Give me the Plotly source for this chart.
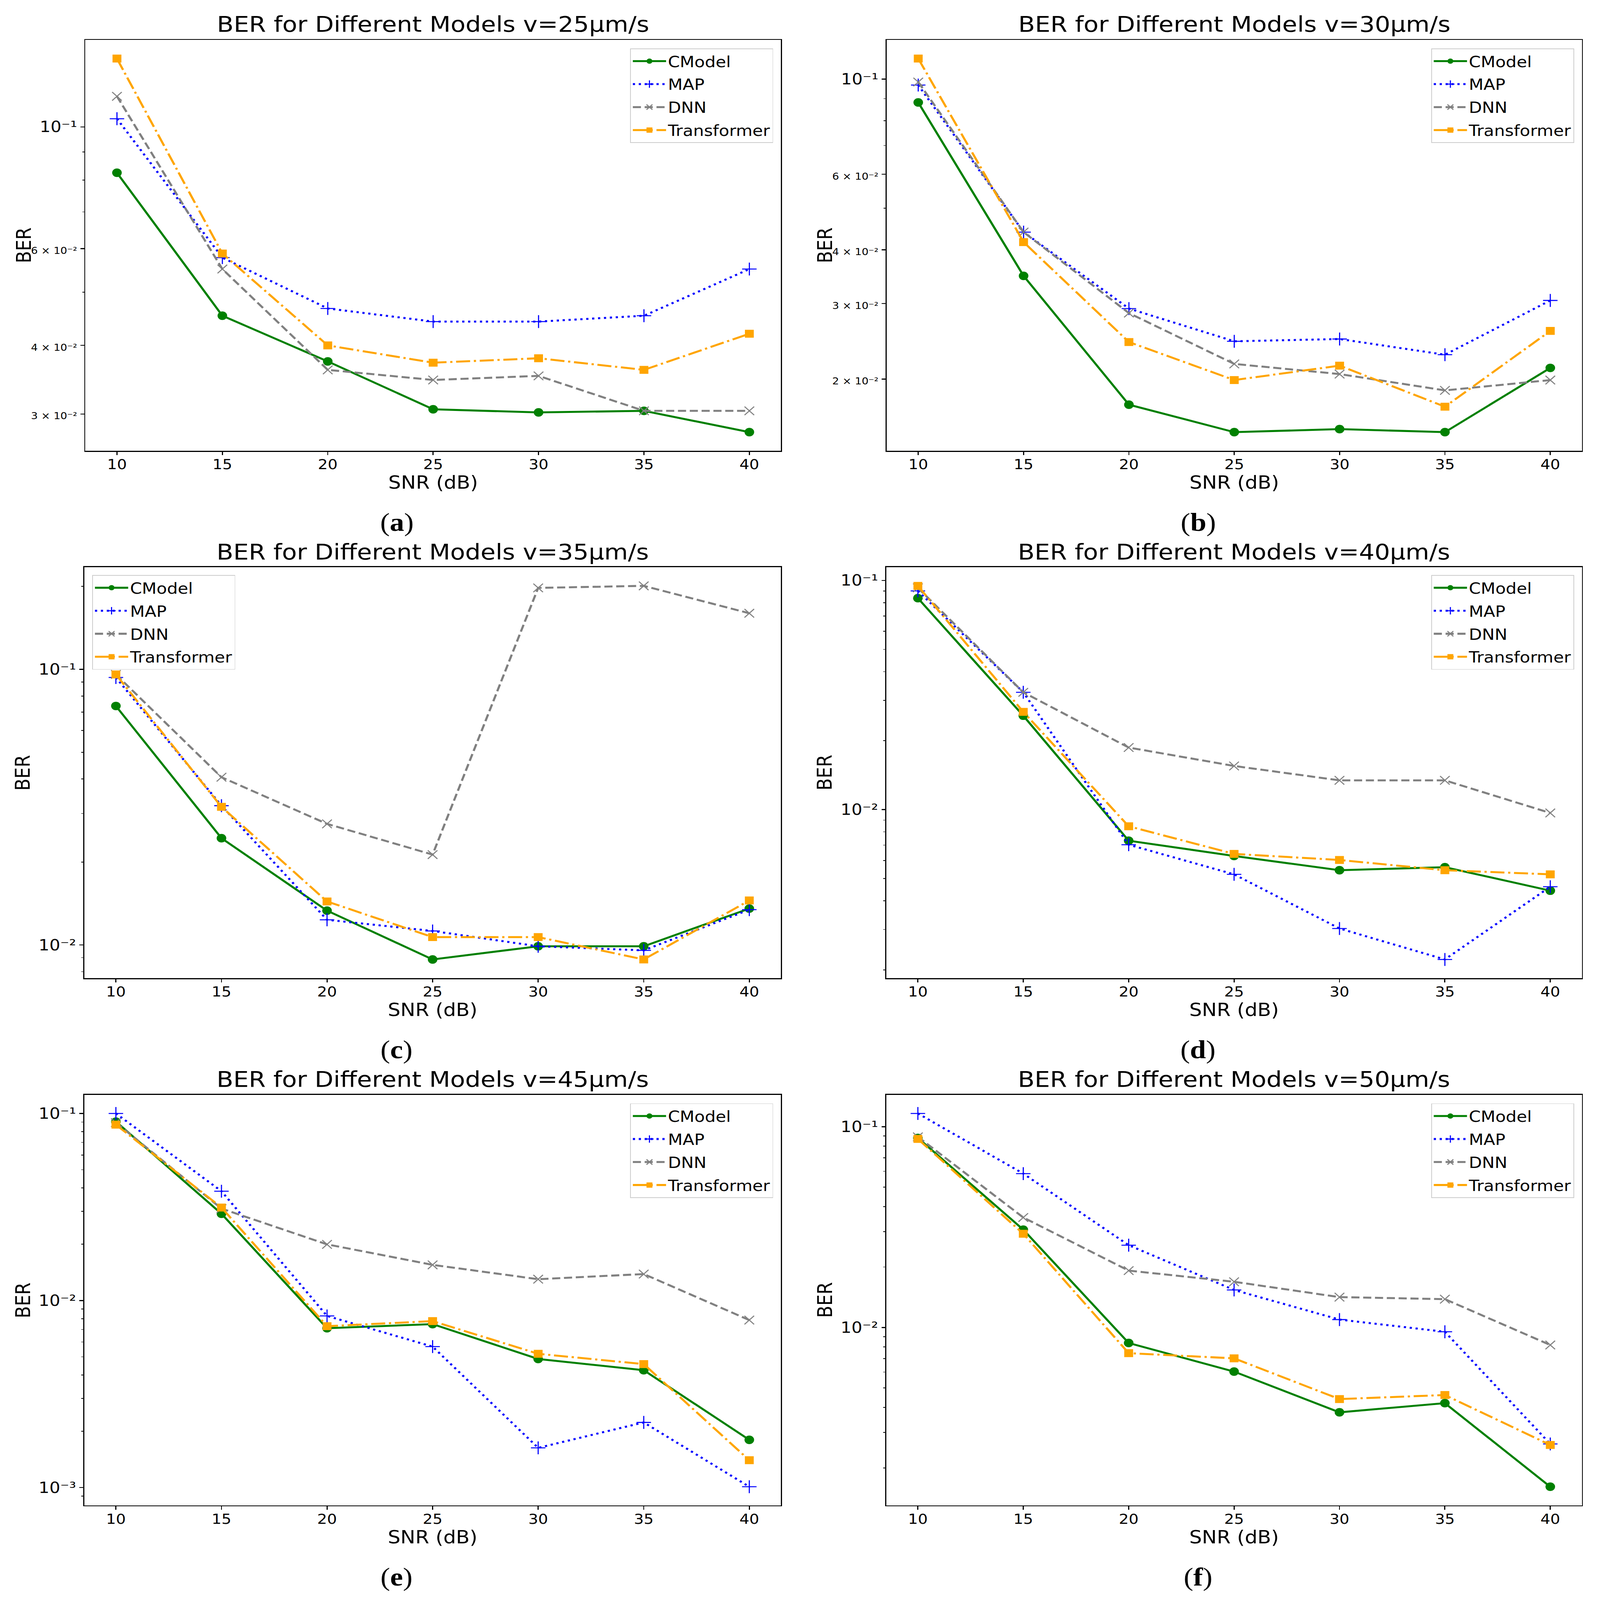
import math
import plotly.graph_objects as go

# ---------------- data ----------------
snr = [10, 15, 20, 25, 30, 35, 40]
model_names = ["CModel", "MAP", "DNN", "Transformer"]
speeds = ["25", "30", "35", "40", "45", "50"]
panel_letters = ["a", "b", "c", "d", "e", "f"]

# (a) v = 25 um/s
a_cmodel = [0.0825, 0.0453, 0.0374, 0.0306, 0.0302, 0.0304, 0.0278]
a_map = [0.1035, 0.0578, 0.0467, 0.0442, 0.0442, 0.0453, 0.0551]
a_dnn = [0.1137, 0.0551, 0.0361, 0.0346, 0.0352, 0.0304, 0.0304]
a_trans = [0.1332, 0.0588, 0.0400, 0.0372, 0.0379, 0.0361, 0.0420]

# (b) v = 30 um/s
b_cmodel = [0.0882, 0.0348, 0.01744, 0.01505, 0.0153, 0.01505, 0.02124]
b_map = [0.0968, 0.0440, 0.0292, 0.0245, 0.0248, 0.0228, 0.0305]
b_dnn = [0.0984, 0.0440, 0.0285, 0.0217, 0.02055, 0.01883, 0.0199]
b_trans = [0.1116, 0.0417, 0.0244, 0.0199, 0.0215, 0.01725, 0.0259]

# (c) v = 35 um/s
c_cmodel = [0.0736, 0.0244, 0.01332, 0.00886, 0.00989, 0.00989, 0.01355]
c_map = [0.0934, 0.0320, 0.01234, 0.01124, 0.00989, 0.00956, 0.01343]
c_dnn = [0.0958, 0.0406, 0.0275, 0.02127, 0.1974, 0.2008, 0.1597]
c_trans = [0.0958, 0.0317, 0.01438, 0.01068, 0.01068, 0.00886, 0.0145]

# (d) v = 40 um/s
d_cmodel = [0.0837, 0.0257, 0.00732, 0.00628, 0.00544, 0.00561, 0.00443]
d_map = [0.0900, 0.0325, 0.00703, 0.00522, 0.00303, 0.00222, 0.00461]
d_dnn = [0.0928, 0.0325, 0.01866, 0.01551, 0.01342, 0.01342, 0.00967]
d_trans = [0.0947, 0.0267, 0.00846, 0.00641, 0.00603, 0.00544, 0.00522]

# (e) v = 45 um/s
e_cmodel = [0.0904, 0.0291, 0.00711, 0.00748, 0.00487, 0.00424, 0.00180]
e_map = [0.1000, 0.0384, 0.00827, 0.00567, 0.00163, 0.00223, 0.00101]
e_dnn = [0.0893, 0.0310, 0.01996, 0.01551, 0.01300, 0.01385, 0.00786]
e_trans = [0.0871, 0.0314, 0.00729, 0.00776, 0.00519, 0.00457, 0.00140]

# (f) v = 50 um/s
f_cmodel = [0.0879, 0.0307, 0.00837, 0.00603, 0.00378, 0.00420, 0.00161]
f_map = [0.1164, 0.0584, 0.0257, 0.01538, 0.01095, 0.00952, 0.00263]
f_dnn = [0.0890, 0.0353, 0.0192, 0.01689, 0.01417, 0.01384, 0.00818]
f_trans = [0.0869, 0.0293, 0.00745, 0.00702, 0.00440, 0.00461, 0.00260]

panel_series = [
    [a_cmodel, a_map, a_dnn, a_trans],
    [b_cmodel, b_map, b_dnn, b_trans],
    [c_cmodel, c_map, c_dnn, c_trans],
    [d_cmodel, d_map, d_dnn, d_trans],
    [e_cmodel, e_map, e_dnn, e_trans],
    [f_cmodel, f_map, f_dnn, f_trans],
]

# minor tick values that carry a "k x 10^n" label (panels a and b)
labeled_minor = [
    [0.06, 0.04, 0.03],
    [0.06, 0.04, 0.03, 0.02],
    [], [], [], [],
]

# ---------------- layout / style ----------------
W, H = 4331, 4855
FONT = "DejaVu Sans"
SUP = {"-": "\u207b", "0": "\u2070", "1": "\u00b9", "2": "\u00b2", "3": "\u00b3",
       "4": "\u2074", "5": "\u2075", "6": "\u2076", "7": "\u2077", "8": "\u2078", "9": "\u2079"}

# plot-area boxes in pixels: (left, right, top, bottom)
boxes = [
    (231, 2114, 121, 1368),
    (2400, 4282, 121, 1368),
    (228, 2114, 1721, 2968),
    (2399, 4282, 1721, 2968),
    (228, 2114, 3322, 4568),
    (2399, 4282, 3322, 4568),
]
# legend anchor (x px, y px, xanchor)
legend_pos = [
    (2093, 147, "right"),
    (4261, 147, "right"),
    (250, 1745, "left"),
    (4261, 1745, "right"),
    (2093, 3348, "right"),
    (4261, 3348, "right"),
]

styles = [
    dict(color="#008000", dash="solid", symbol="circle", msize=26, mline=0),
    dict(color="#0000ff", dash="6px,10px", symbol="cross-thin", msize=28, mline=3),
    dict(color="#808080", dash="22px,10px", symbol="x-thin", msize=26, mline=3),
    dict(color="#ffa500", dash="38px,10px,6px,10px", symbol="square", msize=24, mline=0),
]

LW = 6


def px2x(p):
    return p / W


def px2y(p):
    return 1 - p / H


def sup_exp(n):
    return "10" + "".join(SUP[c] for c in str(n))


fig = go.Figure()
annotations = []
layout_upd = {}

for i, series in enumerate(panel_series):
    idx = "" if i == 0 else str(i + 1)
    xa = "x" + idx
    ya = "y" + idx
    leg = "legend" + idx
    for name, vals, st in zip(model_names, series, styles):
        fig.add_trace(go.Scatter(
            x=snr, y=vals, name=name, mode="lines+markers",
            xaxis=xa, yaxis=ya, legend=leg, legendgroup=name + idx,
            line=dict(color=st["color"], width=LW, dash=st["dash"]),
            marker=dict(symbol=st["symbol"], size=st["msize"], color=st["color"],
                        line=dict(width=st["mline"], color=st["color"])),
        ))

    # log range with 5% padding (matplotlib style)
    allv = [v for s in series for v in s]
    lo, hi = math.log10(min(allv)), math.log10(max(allv))
    pad = 0.05 * (hi - lo)
    lo, hi = lo - pad, hi + pad

    majors, minors = [], []
    for n in range(math.floor(lo) - 1, math.ceil(hi) + 1):
        if lo <= n <= hi:
            majors.append(n)
        for k in range(2, 10):
            v = k * 10 ** n
            if lo <= math.log10(v) <= hi:
                minors.append(round(v, 12))
    tickvals, ticktext = [], []
    for n in majors:
        tickvals.append(10 ** n)
        ticktext.append(sup_exp(n))
    lab = labeled_minor[i]
    for v in lab:
        n = math.floor(math.log10(v) + 1e-9)
        k = round(v / 10 ** n)
        tickvals.append(v)
        ticktext.append("<span style='font-size:29px'>%d \u00d7 %s</span>" % (k, sup_exp(n)))
    unl = [v for v in minors if all(abs(v - t) > 1e-12 for t in lab)]

    L, R, T, B = boxes[i]
    axis_common = dict(showline=True, linewidth=3, linecolor="black", mirror=True,
                       showgrid=False, zeroline=False, ticks="outside", ticklen=10,
                       tickwidth=3, tickcolor="black",
                       tickfont=dict(family=FONT, size=42, color="black"))
    xkey = "xaxis" + idx
    ykey = "yaxis" + idx
    layout_upd[xkey] = dict(
        axis_common, domain=[px2x(L), px2x(R)], anchor=ya,
        range=[8.5, 41.5], tickmode="array", tickvals=snr,
        ticklabelstandoff=-8,
        title=dict(text="SNR (dB)", font=dict(family=FONT, size=54, color="black"), standoff=12),
    )
    layout_upd[ykey] = dict(
        axis_common, domain=[px2y(B), px2y(T)], anchor=xa, type="log",
        range=[lo, hi], tickmode="array", tickvals=tickvals, ticktext=ticktext,
        tickfont=dict(family=FONT, size=46, color="black"),
        minor=dict(tickmode="array", tickvals=unl, ticks="outside", ticklen=5,
                   tickwidth=2, tickcolor="black", showgrid=False),
    )
    lx, ly, lanchor = legend_pos[i]
    layout_upd[leg] = dict(
        x=px2x(lx), y=px2y(ly), xanchor=lanchor, yanchor="top",
        bgcolor="rgba(255,255,255,0.8)", bordercolor="#cccccc", borderwidth=2,
        font=dict(family=FONT, size=46, color="black"),
        tracegroupgap=7, itemwidth=90, traceorder="grouped",
    )
    # y-axis title
    annotations.append(dict(
        text="BER", textangle=-90,
        x=px2x(L - 166), y=px2y((T + B) / 2), xref="paper", yref="paper",
        xanchor="center", yanchor="middle", showarrow=False,
        font=dict(family=FONT, size=54, color="black"),
    ))
    # subplot title
    annotations.append(dict(
        text="BER for Different Models v=%s\u03bcm/s" % speeds[i],
        x=px2x((L + R) / 2), y=px2y(T - 47), xref="paper", yref="paper",
        xanchor="center", yanchor="middle", showarrow=False,
        font=dict(family=FONT, size=66, color="black"),
    ))
    # panel letter
    annotations.append(dict(
        text="(<b>%s</b>)" % panel_letters[i],
        x=px2x((L + R) / 2 - 98), y=px2y(B + 216), xref="paper", yref="paper",
        xanchor="center", yanchor="middle", showarrow=False,
        font=dict(family="Liberation Serif", size=78, color="black"),
    ))

fig.update_layout(
    width=W, height=H, autosize=False,
    margin=dict(l=0, r=0, t=0, b=0),
    paper_bgcolor="white", plot_bgcolor="white",
    showlegend=True, annotations=annotations,
    **layout_upd,
)

# keep the whole fixed-size figure inside the browser viewport
fit_js = """
(function(){
  var gd = document.getElementById('{plot_id}');
  document.documentElement.style.margin = '0';
  document.documentElement.style.overflow = 'hidden';
  document.body.style.margin = '0';
  document.body.style.overflow = 'hidden';
  function fit(){
    var vw = window.innerWidth, vh = window.innerHeight;
    if (!(vw > 0 && vh > 0)) return;
    var sx = vw / %d, sy = vh / %d;
    gd.style.transformOrigin = '0 0';
    gd.style.transform = 'scale(' + sx + ',' + sy + ')';
  }
  fit();
  window.addEventListener('resize', fit);
})();
""" % (W, H)

fig.write_html("out.html", post_script=fit_js, config={"displayModeBar": False})
